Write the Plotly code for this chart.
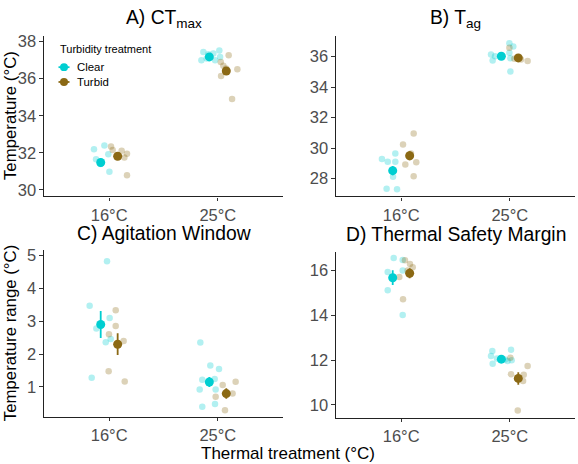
import plotly.graph_objects as go

# ---------------- data ----------------
categories = ["16°C", "25°C"]
cat_pos = [1, 2]
groups = ["Clear", "Turbid"]

# A) CTmax
ctmax_clear_x = [0.860, 0.956, 0.992, 0.879, 1.002, 0.919, 1.867, 1.913, 1.959, 2.014, 1.849, 1.898, 1.975, 2.021]
ctmax_clear_y = [32.2, 32.4, 31.93, 31.65, 30.98, 31.4, 37.43, 37.31, 37.35, 37.52, 36.99, 37.08, 36.99, 37.17]
ctmax_turbid_x = [1.017, 1.032, 1.115, 1.140, 1.164, 1.164, 1.075, 2.027, 2.051, 2.100, 2.030, 2.180, 2.131, 2.076]
ctmax_turbid_y = [32.35, 32.16, 32.12, 31.75, 31.95, 30.80, 31.82, 36.90, 36.69, 37.26, 36.14, 36.50, 34.90, 36.55]
ctmax_clear_mean = [31.48, 37.17]
ctmax_clear_se = [0.22, 0.10]
ctmax_turbid_mean = [31.82, 36.41]
ctmax_turbid_se = [0.15, 0.22]

# B) Tag
tag_clear_x = [0.823, 0.876, 0.946, 0.946, 0.925, 0.866, 0.962, 1.827, 1.842, 1.864, 1.996, 2.032, 1.996, 2.005, 2.005]
tag_clear_y = [29.28, 29.11, 29.11, 29.65, 28.13, 27.33, 27.30, 36.13, 35.74, 36.02, 36.87, 36.65, 36.24, 35.89, 35.02]
tag_turbid_x = [1.017, 1.115, 1.038, 1.139, 1.115, 1.090, 1.996, 2.164, 2.042, 2.103]
tag_turbid_y = [30.24, 30.96, 28.93, 29.07, 28.15, 29.65, 36.57, 35.70, 35.85, 35.80]
tag_clear_mean = [28.52, 36.02]
tag_clear_se = [0.30, 0.12]
tag_turbid_mean = [29.50, 35.91]
tag_turbid_se = [0.30, 0.10]

# C) Agitation Window
aw_clear_x = [0.980, 0.820, 1.004, 0.882, 0.968, 1.014, 0.839, 1.839, 1.931, 2.011, 1.857, 1.971, 1.833, 1.980, 1.974, 1.857]
aw_clear_y = [4.82, 3.47, 3.10, 2.78, 2.36, 2.46, 1.28, 2.35, 1.65, 1.55, 1.22, 1.24, 0.92, 0.92, 0.48, 0.40]
aw_turbid_x = [1.060, 1.060, 0.998, 1.133, 0.995, 1.143, 2.045, 2.164, 2.136, 1.980, 2.066]
aw_turbid_y = [3.33, 2.85, 2.60, 2.40, 1.48, 1.17, 1.06, 1.16, 0.80, 0.70, 0.29]
aw_clear_mean = [2.90, 1.15]
aw_clear_se = [0.41, 0.15]
aw_turbid_mean = [2.30, 0.80]
aw_turbid_se = [0.33, 0.16]

# D) Thermal Safety Margin
tsm_clear_x = [0.931, 1.014, 0.876, 1.014, 0.876, 1.014, 1.839, 1.827, 1.842, 2.011, 1.882, 1.980, 2.017, 1.956]
tsm_clear_y = [16.56, 16.47, 15.93, 16.00, 15.12, 14.01, 12.40, 12.18, 11.84, 12.46, 12.07, 11.96, 11.99, 12.03]
tsm_turbid_x = [1.035, 1.081, 1.106, 0.983, 1.017, 1.060, 2.005, 2.164, 2.011, 2.128, 2.122, 2.073]
tsm_turbid_y = [16.46, 16.29, 16.15, 15.71, 14.72, 16.00, 12.10, 11.74, 11.37, 11.34, 11.07, 9.75]
tsm_clear_mean = [15.68, 12.04]
tsm_clear_se = [0.33, 0.10]
tsm_turbid_mean = [15.88, 11.18]
tsm_turbid_se = [0.22, 0.28]

panel_titles = ["A) CT<sub>max</sub>", "B) T<sub>ag</sub>", "C) Agitation Window", "D) Thermal Safety Margin"]
y_ranges = [[29.65, 38.32], [26.83, 37.37], [0.1, 5.17], [9.43, 16.84]]
y_ticks = [[30, 32, 34, 36, 38], [28, 30, 32, 34, 36], [1, 2, 3, 4, 5], [10, 12, 14, 16]]

# ---------------- styling ----------------
W, H = 578, 464
FONT = "Liberation Sans, Arial, Helvetica, sans-serif"
CLEAR = "#00CED1"
TURBID = "#8B6914"
CLEAR_A = "rgba(0,206,209,0.30)"
TURBID_A = "rgba(139,105,20,0.30)"
DODGE = 0.078

# panel boxes in pixels: (left, right, top, bottom)
boxes = [(44, 283, 32, 195), (336, 575, 32, 195), (44, 283, 249, 418), (336, 575, 251, 419)]

data = [
    (ctmax_clear_x, ctmax_clear_y, ctmax_turbid_x, ctmax_turbid_y, ctmax_clear_mean, ctmax_clear_se, ctmax_turbid_mean, ctmax_turbid_se),
    (tag_clear_x, tag_clear_y, tag_turbid_x, tag_turbid_y, tag_clear_mean, tag_clear_se, tag_turbid_mean, tag_turbid_se),
    (aw_clear_x, aw_clear_y, aw_turbid_x, aw_turbid_y, aw_clear_mean, aw_clear_se, aw_turbid_mean, aw_turbid_se),
    (tsm_clear_x, tsm_clear_y, tsm_turbid_x, tsm_turbid_y, tsm_clear_mean, tsm_clear_se, tsm_turbid_mean, tsm_turbid_se),
]


def px(x):
    return x / W


def py(y):
    return 1 - y / H


fig = go.Figure()
layout = {}
annotations = []
shapes = []

for i, (cx, cy, tx, ty, cm, cse, tm, tse) in enumerate(data):
    n = "" if i == 0 else str(i + 1)
    xa, ya = "x" + n, "y" + n
    fig.add_trace(go.Scatter(x=cx, y=cy, xaxis=xa, yaxis=ya, mode="markers",
                             marker=dict(color=CLEAR_A, size=6.5), showlegend=False, hoverinfo="skip"))
    fig.add_trace(go.Scatter(x=tx, y=ty, xaxis=xa, yaxis=ya, mode="markers",
                             marker=dict(color=TURBID_A, size=6.5), showlegend=False, hoverinfo="skip"))
    fig.add_trace(go.Scatter(x=[c - DODGE for c in cat_pos], y=cm, xaxis=xa, yaxis=ya, mode="markers",
                             marker=dict(color=CLEAR, size=9),
                             error_y=dict(type="data", array=cse, color=CLEAR, thickness=1.8, width=0),
                             name="Clear", showlegend=False))
    fig.add_trace(go.Scatter(x=[c + DODGE for c in cat_pos], y=tm, xaxis=xa, yaxis=ya, mode="markers",
                             marker=dict(color=TURBID, size=9),
                             error_y=dict(type="data", array=tse, color=TURBID, thickness=1.8, width=0),
                             name="Turbid", showlegend=False))

    l, r, t, b = boxes[i]
    axis_common = dict(showline=True, linecolor="#222222", linewidth=1.1, ticks="outside",
                       ticklen=3.5, tickcolor="#333333", tickwidth=1, showgrid=False, zeroline=False,
                       tickfont=dict(family=FONT, size=16.5, color="#4D4D4D"))
    layout["xaxis" + n] = dict(domain=[px(l), px(r)], anchor=ya, range=[0.4, 2.6],
                               tickvals=cat_pos, ticktext=categories, **axis_common)
    layout["yaxis" + n] = dict(domain=[py(b), py(t)], anchor=xa, range=y_ranges[i],
                               tickvals=y_ticks[i], **axis_common)
    annotations.append(dict(text=panel_titles[i], xref="paper", yref="paper",
                            x=px((l + r) / 2), y=py(t - 17), xanchor="center", yanchor="middle",
                            showarrow=False, font=dict(family=FONT, size=19.3, color="black")))

annotations.append(dict(text="Temperature (°C)", xref="paper", yref="paper", x=px(10), y=py(113.5),
                        textangle=-90, xanchor="center", yanchor="middle", showarrow=False,
                        font=dict(family=FONT, size=16.8, color="black")))
annotations.append(dict(text="Temperature range (°C)", xref="paper", yref="paper", x=px(10), y=py(333.5),
                        textangle=-90, xanchor="center", yanchor="middle", showarrow=False,
                        font=dict(family=FONT, size=16.8, color="black")))
annotations.append(dict(text="Thermal treatment (°C)", xref="paper", yref="paper", x=px(288), y=py(455),
                        xanchor="center", yanchor="middle", showarrow=False,
                        font=dict(family=FONT, size=17, color="black")))

# ---- legend (drawn as in the reference: inside panel A, top-left) ----
annotations.append(dict(text="Turbidity treatment", xref="paper", yref="paper", x=px(58), y=py(46),
                        xanchor="left", yanchor="middle", showarrow=False,
                        font=dict(family=FONT, size=11, color="black")))
for k, (g, col) in enumerate(zip(groups, [CLEAR, TURBID])):
    yc = 64 + 15 * k
    annotations.append(dict(text=g, xref="paper", yref="paper", x=px(75), y=py(yc),
                            xanchor="left", yanchor="middle", showarrow=False,
                            font=dict(family=FONT, size=11.4, color="black")))
    shapes.append(dict(type="line", xref="paper", yref="paper", x0=px(58.5), x1=px(69.5), y0=py(yc), y1=py(yc),
                       line=dict(color=col, width=1.8)))
    shapes.append(dict(type="circle", xref="paper", yref="paper", x0=px(60), x1=px(68), y0=py(yc + 4), y1=py(yc - 4),
                       fillcolor=col, line=dict(color=col, width=0)))

fig.update_layout(
    width=W, height=H, margin=dict(l=0, r=0, t=0, b=0),
    paper_bgcolor="white", plot_bgcolor="white",
    annotations=annotations, shapes=shapes, showlegend=False,
    **layout,
)

fig.write_html("out.html", config={"displayModeBar": False},
               post_script="document.body.style.margin='0';")
